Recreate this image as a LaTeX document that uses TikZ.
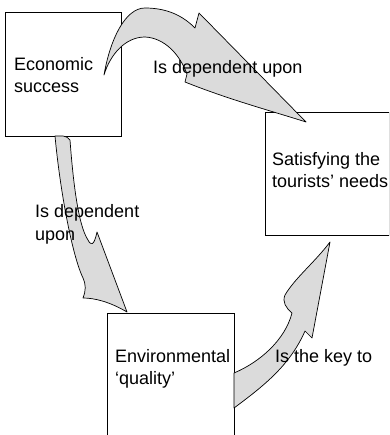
\documentclass[tikz,border=0pt]{standalone}
\usepackage{fontspec}
\setmainfont{Liberation Sans}
\usetikzlibrary{positioning}
\definecolor{arrowgray}{gray}{0.86}
\tikzset{
  box/.style={draw, line width=0.8pt, inner sep=0pt, anchor=north west},
  lbl/.style={inner sep=0pt, align=left, anchor=base west, font=\fontsize{18}{22}\selectfont},
  bigarrow/.style={draw, fill=arrowgray, line width=0.7pt, line join=round}
}

\begin{document}
\begin{tikzpicture}[x=1pt, y=-1pt]
  \useasboundingbox (0,0) rectangle (389,435);
  \clip (0,0) rectangle (389,435);

  \node (econ) [box, minimum width=116pt, minimum height=124pt] at (5,12) {};
  \node (tour) [box, minimum width=124pt, minimum height=123pt] at (265,112) {};
  \node (env)  [box, minimum width=127pt, minimum height=140pt] at (107,313) {};

  % economic success -> tourists' needs
  \draw [bigarrow] (104,75) .. controls (110,40) and (125,8) .. (145,8)
    .. controls (170,8) and (185,18) .. (195,28) -- (199,13) -- (306,122)
    .. controls (275,112) and (230,100) .. (185,82) -- (187,74)
    .. controls (180,55) and (165,38) .. (145,37)
    .. controls (125,37) and (110,55) .. (104,75) -- cycle;

  % economic success -> environmental quality
  \draw [bigarrow] (55,136) -- (63,136) .. controls (67,137) .. (70,140)
    .. controls (73,180) and (78,225) .. (88,240)
    .. controls (91,246) and (94,246) .. (97,232) -- (127,312)
    .. controls (110,302) and (95,298) .. (83,298)
    .. controls (86,290) and (86,285) .. (83,278)
    .. controls (72,255) and (60,190) .. (55,136) -- cycle;

  % environmental quality -> tourists' needs
  \draw [bigarrow] (234,373) .. controls (260,362) and (285,340) .. (292,313)
    .. controls (286,308) and (282,302) .. (285,295)
    .. controls (295,278) and (315,262) .. (330,242) -- (312,338) -- (305,331)
    .. controls (290,365) and (265,385) .. (234,408) -- cycle;

  \node (econtxt) [lbl] at (14,93) {Economic\\success};
  \node (tourtxt) [lbl] at (272,188) {Satisfying the\\tourists' needs};
  \node (envtxt)  [lbl] at (115,384) {Environmental\\`quality'};

  \node (dep1) [lbl] at (153,74) {Is dependent upon};
  \node (dep2) [lbl] at (35,240) {Is dependent\\upon};
  \node (key)  [lbl] at (275,362) {Is the key to};
\end{tikzpicture}
\end{document}
